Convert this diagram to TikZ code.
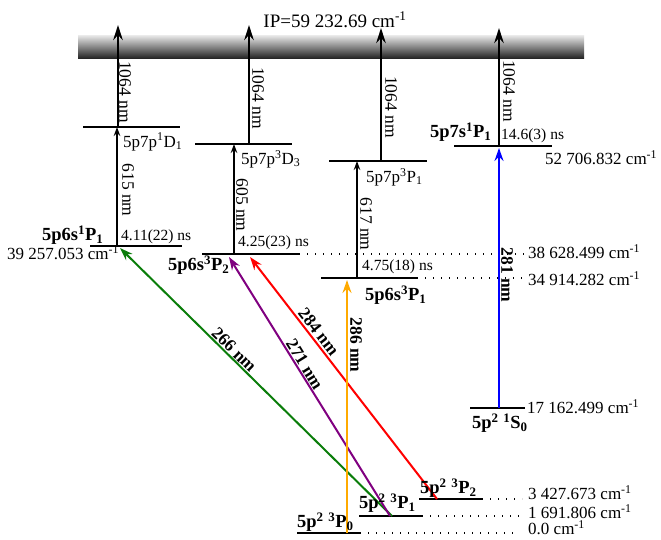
\documentclass[tikz,border=0pt]{standalone}
\usepackage{fontspec}
\setmainfont{Liberation Serif}
\usetikzlibrary{arrows.meta}
\definecolor{cgreen}{RGB}{10,125,10}
\definecolor{cpurple}{RGB}{128,0,128}
\definecolor{cred}{RGB}{255,0,0}
\definecolor{corange}{RGB}{255,170,0}
\definecolor{cblue}{RGB}{0,0,255}
\begin{document}
\begin{tikzpicture}[x=1pt,y=-1pt,
  lvl/.style={line width=2.6pt},
  ion/.style={line width=2.4pt,-{Stealth[length=15pt,width=9.5pt]}},
  exc/.style={line width=1.5pt,-{Stealth[length=9pt,width=6.5pt]}},
  las/.style={line width=2pt,-{Stealth[length=13pt,width=9pt]}},
  dots/.style={line width=1.2pt,dash pattern=on 1.2pt off 6.8pt},
  txt/.style={inner sep=0pt,font=\fontsize{17}{19}\selectfont},
  nsl/.style={inner sep=0pt,font=\fontsize{15.5}{17}\selectfont},
  bld/.style={inner sep=0pt,font=\fontsize{18.5}{20}\selectfont\bfseries},
  wl/.style={inner sep=0pt,font=\fontsize{17.5}{19}\selectfont,rotate=-90},
  bwl/.style={inner sep=0pt,font=\fontsize{17.5}{19}\selectfont\bfseries},
]
\useasboundingbox (0,0) rectangle (661,539);

% ionisation band
\shade[top color=black!8,bottom color=black!85] (78,35) rectangle (584,58);
\node[inner sep=0pt,font=\fontsize{19}{21}\selectfont,anchor=base] (ip) at (335,27) {IP=59 232.69 cm\textsuperscript{-1}};

% dotted guide lines
\draw[dots] (299,254) -- (525,254);
\draw[dots] (417,278) -- (525,278);
\draw[dots] (482,499) -- (522,499);
\draw[dots] (422,516) -- (522,516);
\draw[dots] (360,533) -- (515,533);

% levels
\draw[lvl] (83,127) -- (180,127);
\draw[lvl] (195,144) -- (292,144);
\draw[lvl] (329,161) -- (427,161);
\draw[lvl] (454,146) -- (552,146);
\draw[lvl] (90,246) -- (182,246);
\draw[lvl] (202,254) -- (299,254);
\draw[lvl] (321,278) -- (417,278);
\draw[lvl] (470,408) -- (525,408);
\draw[lvl] (419,499) -- (482,499);
\draw[lvl] (359,516) -- (422,516);
\draw[lvl] (297,533) -- (360,533);

% coordinates
\coordinate (i1b) at (118,127); \coordinate (i1t) at (118,25);
\coordinate (i2b) at (249,144); \coordinate (i2t) at (249,25);
\coordinate (i3b) at (381,161); \coordinate (i3t) at (381,28);
\coordinate (i4b) at (499,146); \coordinate (i4t) at (499,28);
\coordinate (e1b) at (117,246); \coordinate (e1t) at (117,127);
\coordinate (e2b) at (234,254); \coordinate (e2t) at (234,144);
\coordinate (e3b) at (357,278); \coordinate (e3t) at (357,161);
\coordinate (gS) at (392,516); \coordinate (gE) at (120,248);
\coordinate (pS) at (390,516); \coordinate (pE) at (229,257);
\coordinate (rS) at (437,499); \coordinate (rE) at (250,257);
\coordinate (oS) at (347,533); \coordinate (oE) at (347,280);
\coordinate (bS) at (499,408); \coordinate (bE) at (499,148);

% ionisation arrows
\draw[ion] (i1b) -- (i1t);
\draw[ion] (i2b) -- (i2t);
\draw[ion] (i3b) -- (i3t);
\draw[ion] (i4b) -- (i4t);
\node[wl] (w1) at (125,92) {1064 nm};
\node[wl] (w2) at (258,98) {1064 nm};
\node[wl] (w3) at (391,107) {1064 nm};
\node[wl] (w4) at (509,91) {1064 nm};

% excitation arrows
\draw[exc] (e1b) -- (e1t);
\draw[exc] (e2b) -- (e2t);
\draw[exc] (e3b) -- (e3t);
\node[wl] (w615) at (128,190) {615 nm};
\node[wl] (w605) at (242,205) {605 nm};
\node[wl] (w617) at (366,224) {617 nm};

% laser arrows
\draw[las,cgreen] (gS) -- (gE) node[bwl,black,sloped,pos=0.6,anchor=south,inner sep=0.8pt] (l266) {266 nm};
\draw[las,cpurple] (pS) -- (pE) node[bwl,black,sloped,pos=0.57,anchor=south,inner sep=1pt] (l271) {271 nm};
\draw[las,cred] (rS) -- (rE) node[bwl,black,sloped,pos=0.67,anchor=south,inner sep=2pt] (l284) {284 nm};
\draw[las,corange] (oS) -- (oE);
\draw[las,cblue] (bS) -- (bE);
\node[bwl,rotate=-90] (l286) at (356,345) {286 nm};
\node[bwl,rotate=-90] (l281) at (507,275) {281 nm};

% level labels
\node[txt,anchor=west] (t1) at (123,142) {5p7p\textsuperscript{1}D\textsubscript{1}};
\node[txt,anchor=west] (t2) at (241,159) {5p7p\textsuperscript{3}D\textsubscript{3}};
\node[txt,anchor=west] (t3) at (366,177) {5p7p\textsuperscript{3}P\textsubscript{1}};
\node[bld,anchor=west] (t4) at (430,132) {5p7s\textsuperscript{1}P\textsubscript{1}};
\node[nsl,anchor=west] (t5) at (501,136) {14.6(3) ns};
\node[txt,anchor=west] (t6) at (545,158) {52 706.832 cm\textsuperscript{-1}};
\node[nsl,anchor=west] (t7) at (121,237) {4.11(22) ns};
\node[bld,anchor=west] (t8) at (42,235) {5p6s\textsuperscript{1}P\textsubscript{1}};
\node[txt,anchor=west] (t9) at (7,253) {39 257.053 cm\textsuperscript{-1}};
\node[nsl,anchor=west] (t10) at (238,243) {4.25(23) ns};
\node[bld,anchor=west] (t11) at (168,265) {5p6s\textsuperscript{3}P\textsubscript{2}};
\node[nsl,anchor=west] (t12) at (362,267) {4.75(18) ns};
\node[bld,anchor=west] (t13) at (365,295) {5p6s\textsuperscript{3}P\textsubscript{1}};
\node[txt,anchor=west] (t14) at (528,252) {38 628.499 cm\textsuperscript{-1}};
\node[txt,anchor=west] (t15) at (528,279) {34 914.282 cm\textsuperscript{-1}};
\node[txt,anchor=west] (t16) at (527,407) {17 162.499 cm\textsuperscript{-1}};
\node[bld,anchor=west] (t17) at (472,423) {5p\textsuperscript{2} \textsuperscript{1}S\textsubscript{0}};
\node[bld,anchor=west] (t18) at (420,488) {5p\textsuperscript{2} \textsuperscript{3}P\textsubscript{2}};
\node[bld,anchor=west] (t19) at (359,503) {5p\textsuperscript{2} \textsuperscript{3}P\textsubscript{1}};
\node[bld,anchor=west] (t20) at (297,522) {5p\textsuperscript{2} \textsuperscript{3}P\textsubscript{0}};
\node[txt,anchor=west] (t21) at (528,493) {3 427.673 cm\textsuperscript{-1}};
\node[txt,anchor=west] (t22) at (528,512) {1 691.806 cm\textsuperscript{-1}};
\node[txt,anchor=west] (t23) at (528,528) {0.0 cm\textsuperscript{-1}};
\end{tikzpicture}
\end{document}
